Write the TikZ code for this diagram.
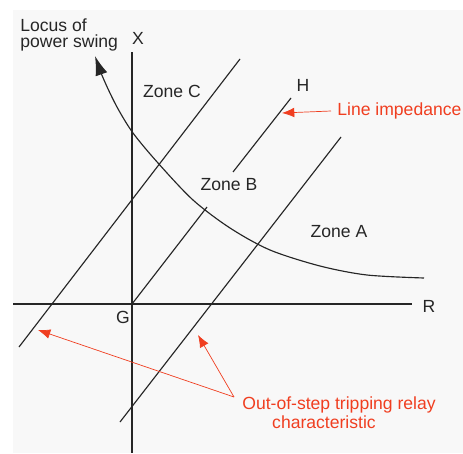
\documentclass[tikz,border=0pt]{standalone}
\usepackage{fontspec}
\setmainfont{Liberation Sans}
\usetikzlibrary{arrows.meta}
\definecolor{bggray}{RGB}{248,248,248}
\definecolor{notered}{RGB}{240,62,32}
\definecolor{ink}{RGB}{38,38,38}
\tikzset{
  axis/.style={draw=ink, line width=0.6pt},
  relayline/.style={draw=ink, line width=0.65pt},
  swing/.style={draw=ink, line width=0.65pt, {Latex[length=11pt,width=7pt]}-},
  lbl/.style={text=ink, font=\fontsize{10}{12}\selectfont, inner sep=0pt},
  note/.style={text=notered, font=\fontsize{10}{11}\selectfont, inner sep=0pt},
  pointer/.style={draw=notered, line width=0.4pt, -{Latex[length=7pt,width=5.5pt]}},
}

\begin{document}
\begin{tikzpicture}[x=0.02cm, y=-0.02cm]
  \useasboundingbox (0,0) rectangle (463,453);
  \fill[bggray] (13,10) rectangle (463,453);

  % axes
  \coordinate (Xtop) at (132,52);
  \coordinate (Xbot) at (132,453);
  \coordinate (Rleft) at (13,304);
  \coordinate (Rright) at (412,304);
  \draw[axis] (Xtop) -- (Xbot);
  \draw[axis] (Rleft) -- (Rright);
  \node[lbl] (X) at (138,38) {X};
  \node[lbl] (R) at (429,306) {R};
  \node[lbl] (G) at (123,317) {G};

  % relay characteristic and line impedance
  \coordinate (c1a) at (19,347);
  \coordinate (c1b) at (240,59);
  \coordinate (c2a) at (120,422);
  \coordinate (c2b) at (341,137);
  \coordinate (origin) at (132,304);
  \coordinate (zb1) at (207,207);
  \coordinate (zb2) at (233,172);
  \coordinate (Hend) at (291,98);
  \draw[relayline] (c1a) -- (c1b);
  \draw[relayline] (c2a) -- (c2b);
  \draw[relayline] (origin) -- (zb1);
  \draw[relayline] (zb2) -- (Hend);
  \node[lbl] (H) at (303,85) {H};

  % locus of power swing
  \draw[swing] plot[smooth] coordinates {(95,56) (104,80) (117,107) (133,133)
    (158,163) (193,200) (230,228) (270,250) (320,266) (367,275) (424,278)};
  \node[lbl, align=left, anchor=west, font=\fontsize{10}{9.2}\selectfont] (locus) at (20,35) {Locus of\\power swing};

  % zones
  \node[lbl] (zoneC) at (172,91) {Zone C};
  \node[lbl] (zoneB) at (229,185) {Zone B};
  \node[lbl] (zoneA) at (339,232) {Zone A};

  % notes
  \node[note, anchor=west] (limp) at (337,111) {Line impedance};
  \coordinate (limptip) at (282,113);
  \draw[pointer] (limp.west) ++(-6,0) -- (limptip);

  \node[note, align=left, anchor=north west] (oos) at (242,396)
    {Out-of-step tripping relay\\\hspace*{17pt}characteristic};
  \coordinate (split) at (234,397);
  \coordinate (tip1) at (38,330);
  \coordinate (tip2) at (198,335);
  \draw[pointer] (split) -- (tip1);
  \draw[pointer] (split) -- (tip2);
\end{tikzpicture}
\end{document}
